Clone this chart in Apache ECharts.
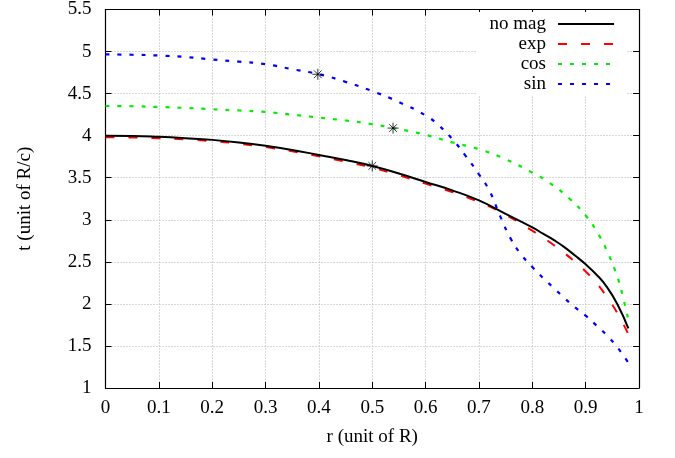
<!DOCTYPE html>
<html><head><meta charset="utf-8">
<script src="https://cdn.jsdelivr.net/npm/echarts@6/dist/echarts.min.js"></script>
<style>html,body{margin:0;padding:0;background:#fff}#c{width:675px;height:458px}</style>
</head><body><div id="c"></div>
<script>
// ---- data ----
const seriesNames = ['no mag', 'exp', 'cos', 'sin'];

const rNomag = [0, 0.05, 0.1, 0.15, 0.2, 0.25, 0.3, 0.35, 0.4, 0.45, 0.5, 0.55, 0.6, 0.65, 0.7, 0.75, 0.8, 0.82, 0.84, 0.86, 0.88, 0.9, 0.92, 0.94, 0.96, 0.98];
const tNomag = [4.0, 3.997, 3.986, 3.97, 3.95, 3.92, 3.88, 3.83, 3.77, 3.71, 3.64, 3.55, 3.45, 3.35, 3.23, 3.07, 2.91, 2.835, 2.76, 2.675, 2.575, 2.47, 2.35, 2.20, 1.99, 1.71];

const rExp = [0, 0.05, 0.1, 0.15, 0.2, 0.25, 0.3, 0.35, 0.4, 0.45, 0.5, 0.55, 0.6, 0.65, 0.7, 0.75, 0.8, 0.82, 0.84, 0.86, 0.88, 0.9, 0.92, 0.94, 0.96, 0.98];
const tExp = [3.98, 3.978, 3.97, 3.955, 3.935, 3.905, 3.865, 3.815, 3.755, 3.69, 3.62, 3.53, 3.43, 3.33, 3.21, 3.06, 2.87, 2.79, 2.70, 2.605, 2.50, 2.385, 2.25, 2.08, 1.885, 1.64];

const rCos = [0, 0.05, 0.1, 0.15, 0.2, 0.25, 0.3, 0.35, 0.4, 0.45, 0.5, 0.54, 0.6, 0.65, 0.7, 0.75, 0.8, 0.83, 0.87, 0.9, 0.92, 0.94, 0.96, 0.97, 0.98];
const tCos = [4.353, 4.35, 4.341, 4.33, 4.314, 4.30, 4.282, 4.25, 4.215, 4.18, 4.136, 4.09, 4.01, 3.92, 3.84, 3.72, 3.56, 3.45, 3.25, 3.05, 2.87, 2.63, 2.31, 2.08, 1.81];

const rSin = [0, 0.05, 0.1, 0.15, 0.2, 0.25, 0.3, 0.35, 0.4, 0.45, 0.5, 0.55, 0.6, 0.625, 0.65, 0.675, 0.7, 0.72, 0.74, 0.76, 0.78, 0.8, 0.82, 0.84, 0.86, 0.88, 0.9, 0.92, 0.94, 0.96, 0.98];
const tSin = [4.966, 4.962, 4.953, 4.935, 4.906, 4.88, 4.85, 4.79, 4.73, 4.64, 4.53, 4.40, 4.24, 4.12, 3.96, 3.76, 3.54, 3.34, 3.04, 2.77, 2.58, 2.44, 2.31, 2.19, 2.07, 1.96, 1.86, 1.745, 1.625, 1.48, 1.30];

const markR = [0.398, 0.539, 0.5];
const markT = [4.73, 4.09, 3.64];

const xTickLabels = ['0', '0.1', '0.2', '0.3', '0.4', '0.5', '0.6', '0.7', '0.8', '0.9', '1'];
const yTickLabels = ['1', '1.5', '2', '2.5', '3', '3.5', '4', '4.5', '5', '5.5'];
const xTitle = 'r (unit of R)';
const yTitle = 't (unit of R/c)';

// ---- chart ----
const FONT = 'Liberation Serif';
const zip = (a, b) => a.map((v, i) => [v, b[i]]);
const chart = echarts.init(document.getElementById('c'), null, {renderer: 'canvas'});

const tickStyle = {show: true, inside: true, length: 6, lineStyle: {color: '#000', width: 1}};
const lineAx = {show: true, onZero: false, lineStyle: {color: '#000', width: 1.2}};
const gridLine = {show: true, lineStyle: {color: '#b0b0b0', width: 1, type: [1, 2]}};

const option = {
  backgroundColor: '#fff',
  animation: false,
  grid: {left: 105.5, right: 36, top: 8.3, bottom: 70, containLabel: false},
  xAxis: [
    {type: 'value', min: 0, max: 1, interval: 0.1, position: 'bottom',
     axisLine: lineAx, axisTick: tickStyle, splitLine: gridLine,
     axisLabel: {margin: 11, color: '#000', fontFamily: FONT, fontSize: 19,
       formatter: v => xTickLabels[Math.round(v * 10)]},
     name: xTitle, nameLocation: 'middle', nameGap: 40,
     nameTextStyle: {color: '#000', fontFamily: FONT, fontSize: 19}},
    {type: 'value', min: 0, max: 1, interval: 0.1, position: 'top',
     axisLine: lineAx, axisTick: tickStyle, splitLine: {show: false}, axisLabel: {show: false}}
  ],
  yAxis: [
    {type: 'value', min: 1, max: 5.5, interval: 0.5, position: 'left',
     axisLine: lineAx, axisTick: tickStyle, splitLine: gridLine,
     axisLabel: {margin: 14, color: '#000', fontFamily: FONT, fontSize: 19,
       formatter: v => yTickLabels[Math.round((v - 1) * 2)]},
     name: yTitle, nameLocation: 'middle', nameGap: 71, nameRotate: 90,
     nameTextStyle: {color: '#000', fontFamily: FONT, fontSize: 19}},
    {type: 'value', min: 1, max: 5.5, interval: 0.5, position: 'right',
     axisLine: lineAx, axisTick: tickStyle, splitLine: {show: false}, axisLabel: {show: false}}
  ],
  legend: {
    data: seriesNames,
    orient: 'vertical', align: 'right',
    right: 48, top: 12,
    padding: [2, 12, 2, 13],
    backgroundColor: '#fff',
    itemWidth: 56, itemHeight: 20, itemGap: 0,
    itemStyle: {opacity: 0},
    textStyle: {color: '#000', fontFamily: FONT, fontSize: 19, lineHeight: 20, padding: [0, 7, 0, 0]},
    inactiveColor: '#000'
  },
  series: [
    {name: seriesNames[0], type: 'line', data: zip(rNomag, tNomag), symbol: 'none', smooth: 0.5,
     lineStyle: {color: '#000000', width: 2, type: 'solid'}, itemStyle: {color: '#000000'}, z: 5},
    {name: seriesNames[1], type: 'line', data: zip(rExp, tExp), symbol: 'none', smooth: 0.5,
     lineStyle: {color: '#ff0000', width: 2, type: [9, 14]}, itemStyle: {color: '#ff0000'}, z: 4},
    {name: seriesNames[2], type: 'line', data: zip(rCos, tCos), symbol: 'none', smooth: 0.5,
     lineStyle: {color: '#00ee00', width: 2.2, type: [4, 8]}, itemStyle: {color: '#00ee00'}, z: 3},
    {name: seriesNames[3], type: 'line', data: zip(rSin, tSin), symbol: 'none', smooth: 0.5,
     lineStyle: {color: '#0000ff', width: 2.2, type: [4, 8]}, itemStyle: {color: '#0000ff'}, z: 3},
    {name: 'marks', type: 'scatter', data: zip(markR, markT), z: 10,
     symbol: 'path://M0,5L10,5M5,0L5,10M1.5,1.5L8.5,8.5M8.5,1.5L1.5,8.5', symbolSize: 11,
     itemStyle: {color: 'rgba(0,0,0,0)', borderColor: '#000', borderWidth: 1}}
  ]
};
chart.setOption(option);
</script>
</body></html>
